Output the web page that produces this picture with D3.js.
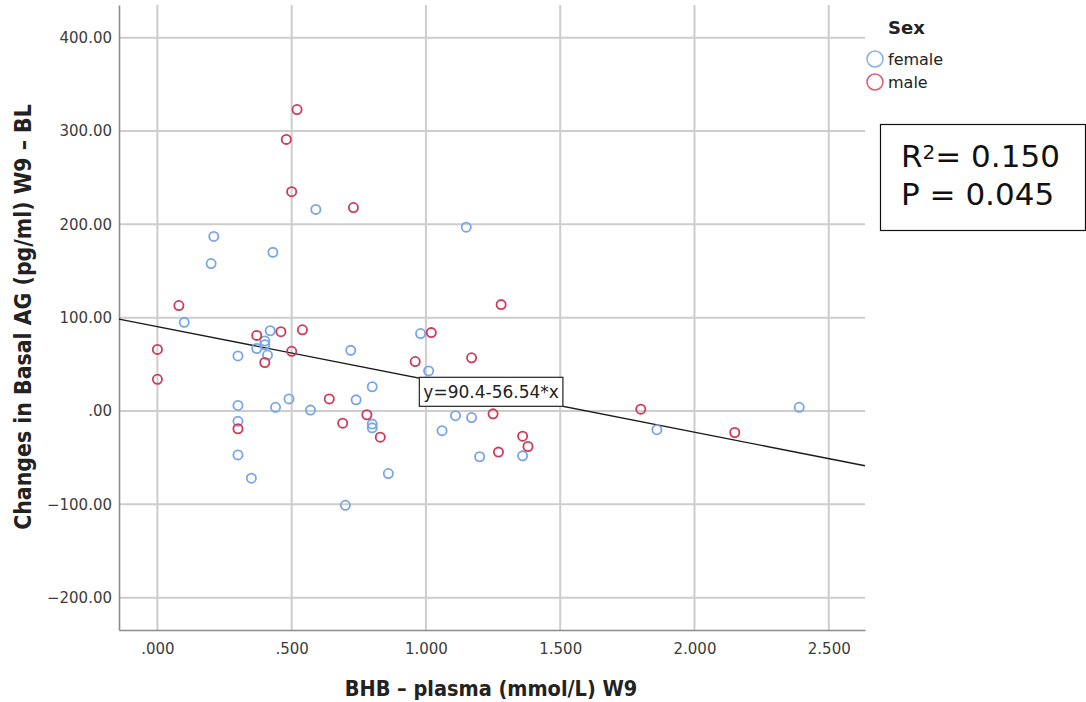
<!DOCTYPE html>
<html>
<head>
<meta charset="utf-8">
<script src="https://cdn.jsdelivr.net/npm/d3@7"></script>
<style>
  html, body { margin: 0; padding: 0; background: #fff; }
  svg { display: block; }
</style>
</head>
<body>
<svg id="chart" width="1086" height="702"></svg>
<script>
// BHB plasma (mmol/L) at week 9 vs. change in basal AG (pg/ml), by sex
const femaleBHB = [0.10, 0.42, 0.40, 0.40, 0.37, 0.41, 0.30, 0.72, 0.98, 1.01, 0.80, 0.74, 0.49, 0.44, 0.57, 0.30, 0.30, 0.30, 0.35, 0.80, 0.80, 0.86, 0.70, 1.06, 1.11, 1.17, 1.20, 1.36, 1.86, 2.39, 1.15, 0.59, 0.21, 0.43, 0.20];
const femaleAG  = [95, 86, 75, 71, 67, 60, 59, 65, 83, 43, 26, 12, 13, 4, 1, 6, -11, -47, -72, -14, -18, -67, -101, -21, -5, -7, -49, -48, -20, 4, 197, 216, 187, 170, 158];
const maleBHB   = [0.08, 0.00, 0.00, 0.37, 0.46, 0.54, 0.40, 0.50, 1.02, 0.96, 0.64, 0.30, 0.78, 0.69, 0.83, 1.28, 1.17, 1.25, 1.27, 1.36, 1.38, 1.80, 2.15, 0.52, 0.48, 0.50, 0.73];
const maleAG    = [113, 66, 34, 81, 85, 87, 52, 64, 84, 53, 13, -19, -4, -13, -28, 114, 57, -3, -44, -27, -38, 2, -23, 323, 291, 235, 218];

const xTicks = [0, 0.5, 1.0, 1.5, 2.0, 2.5];
const yTicks = [-200, -100, 0, 100, 200, 300, 400];
const xDomain = [-0.143, 2.635];
const yDomain = [-234.6, 435];

const fitIntercept = 90.4;
const fitSlope = -56.54;
const fitLabelAt = 1.51;

const sexes = ["female", "male"];
const statLines = ["0.150", "0.045"];

const colors = { female: "#78a5ea", male: "#d2385a" };
const legendColors = { female: "#8cb2ec", male: "#d6617c" };

const svg = d3.select("#chart");
const plot = { left: 119, right: 865, top: 5, bottom: 630 };

const x = d3.scaleLinear().domain(xDomain).range([plot.left, plot.right]);
const y = d3.scaleLinear().domain(yDomain).range([plot.bottom, plot.top]);

svg.append("rect").attr("width", 1086).attr("height", 702).attr("fill", "#fff");

// grid lines
const grid = svg.append("g").attr("stroke", "#cdcdcd").attr("stroke-width", 2);
grid.selectAll("line.v").data(xTicks).join("line")
  .attr("class", "v")
  .attr("x1", d => x(d)).attr("x2", d => x(d))
  .attr("y1", plot.top).attr("y2", plot.bottom);
grid.selectAll("line.h").data(yTicks).join("line")
  .attr("class", "h")
  .attr("x1", plot.left).attr("x2", plot.right)
  .attr("y1", d => y(d)).attr("y2", d => y(d));

// axes
const xAxis = d3.axisBottom(x).tickValues(xTicks).tickSize(0).tickPadding(13)
  .tickFormat(d => d3.format(".3f")(d).replace(/^0(?=\.)/, ""));
const yAxis = d3.axisLeft(y).tickValues(yTicks).tickSize(0).tickPadding(7)
  .tickFormat(d => d === 0 ? ".00" : d3.format(".2f")(d));

const gx = svg.append("g").attr("transform", `translate(0,${plot.bottom})`).call(xAxis);
const gy = svg.append("g").attr("transform", `translate(${plot.left},0)`).call(yAxis);
[gx, gy].forEach(g => {
  g.attr("font-size", 15).attr("font-family", "'DejaVu Sans', sans-serif");
  g.select(".domain").attr("stroke", "#8c8c8c").attr("stroke-width", 1.6);
  g.selectAll("text").attr("font-family", "'DejaVu Sans', sans-serif")
    .attr("font-size", 15).attr("fill", "#3c3c3c");
});

// regression line
const line = d3.line().x(d => x(d)).y(d => y(fitIntercept + fitSlope * d));
svg.append("path").datum(xDomain)
  .attr("d", line).attr("fill", "none")
  .attr("stroke", "#1a1a1a").attr("stroke-width", 1.4);

// points
const pts = [];
femaleBHB.forEach((v, i) => pts.push({ sex: "female", bhb: v, ag: femaleAG[i] }));
maleBHB.forEach((v, i) => pts.push({ sex: "male", bhb: v, ag: maleAG[i] }));
svg.append("g").selectAll("circle").data(pts).join("circle")
  .attr("cx", d => x(d.bhb)).attr("cy", d => y(d.ag)).attr("r", 4.6)
  .attr("fill", "none").attr("stroke", d => colors[d.sex]).attr("stroke-width", 1.8);

// fit equation label, bottom-right corner sitting on the line
const lblX = x(fitLabelAt), lblY = y(fitIntercept + fitSlope * fitLabelAt);
const lbl = svg.append("g");
const lblBox = lbl.append("rect").attr("fill", "#fff").attr("stroke", "#333").attr("stroke-width", 1.3);
const lblText = lbl.append("text")
  .attr("font-family", "'DejaVu Sans', sans-serif").attr("font-size", 17).attr("fill", "#222")
  .text(`y=${fitIntercept}-${fitSlope < 0 ? -fitSlope : fitSlope}*x`);
const bb = lblText.node().getBBox();
const padX = 4, boxH = 29;
const boxW = bb.width + padX * 2;
lblBox.attr("x", lblX - boxW).attr("y", lblY - boxH).attr("width", boxW).attr("height", boxH);
lblText.attr("x", lblX - boxW + padX).attr("y", lblY - 8);

// axis titles
svg.append("text")
  .attr("x", (plot.left + plot.right) / 2 - 1).attr("y", 696)
  .attr("text-anchor", "middle")
  .attr("font-family", "'DejaVu Sans Condensed', 'DejaVu Sans', sans-serif")
  .attr("font-weight", "bold").attr("font-size", 21.5).attr("fill", "#222")
  .text("BHB – plasma (mmol/L) W9");
svg.append("text")
  .attr("transform", "translate(31,317) rotate(-90)")
  .attr("text-anchor", "middle")
  .attr("font-family", "'DejaVu Sans Condensed', 'DejaVu Sans', sans-serif")
  .attr("font-weight", "bold").attr("font-size", 22.8).attr("fill", "#222")
  .text("Changes in Basal AG (pg/ml) W9 – BL");

// legend
const legend = svg.append("g").attr("font-family", "'DejaVu Sans', sans-serif").attr("fill", "#222");
legend.append("text").attr("x", 888).attr("y", 34)
  .attr("font-weight", "bold").attr("font-size", 18).text("Sex");
sexes.forEach((s, i) => {
  legend.append("circle").attr("cx", 875).attr("cy", 59 + i * 23).attr("r", 8)
    .attr("fill", "none").attr("stroke", legendColors[s]).attr("stroke-width", 1.6);
  legend.append("text").attr("x", 888).attr("y", 65 + i * 23)
    .attr("font-size", 16).text(s);
});

// R² / P annotation box
svg.append("rect").attr("x", 880.5).attr("y", 124.5).attr("width", 205).attr("height", 106)
  .attr("fill", "#fff").attr("stroke", "#111").attr("stroke-width", 1.2);
const stat = svg.append("g").attr("font-family", "'DejaVu Sans', sans-serif").attr("fill", "#111");
const r2 = stat.append("text").attr("x", 901).attr("y", 167).attr("font-size", 31);
r2.append("tspan").text("R");
r2.append("tspan").attr("font-size", 20).attr("dy", -8).text("2");
r2.append("tspan").attr("dy", 8).text(`= ${statLines[0]}`);
stat.append("text").attr("x", 901).attr("y", 205).attr("font-size", 31).text(`P = ${statLines[1]}`);
</script>
</body>
</html>
